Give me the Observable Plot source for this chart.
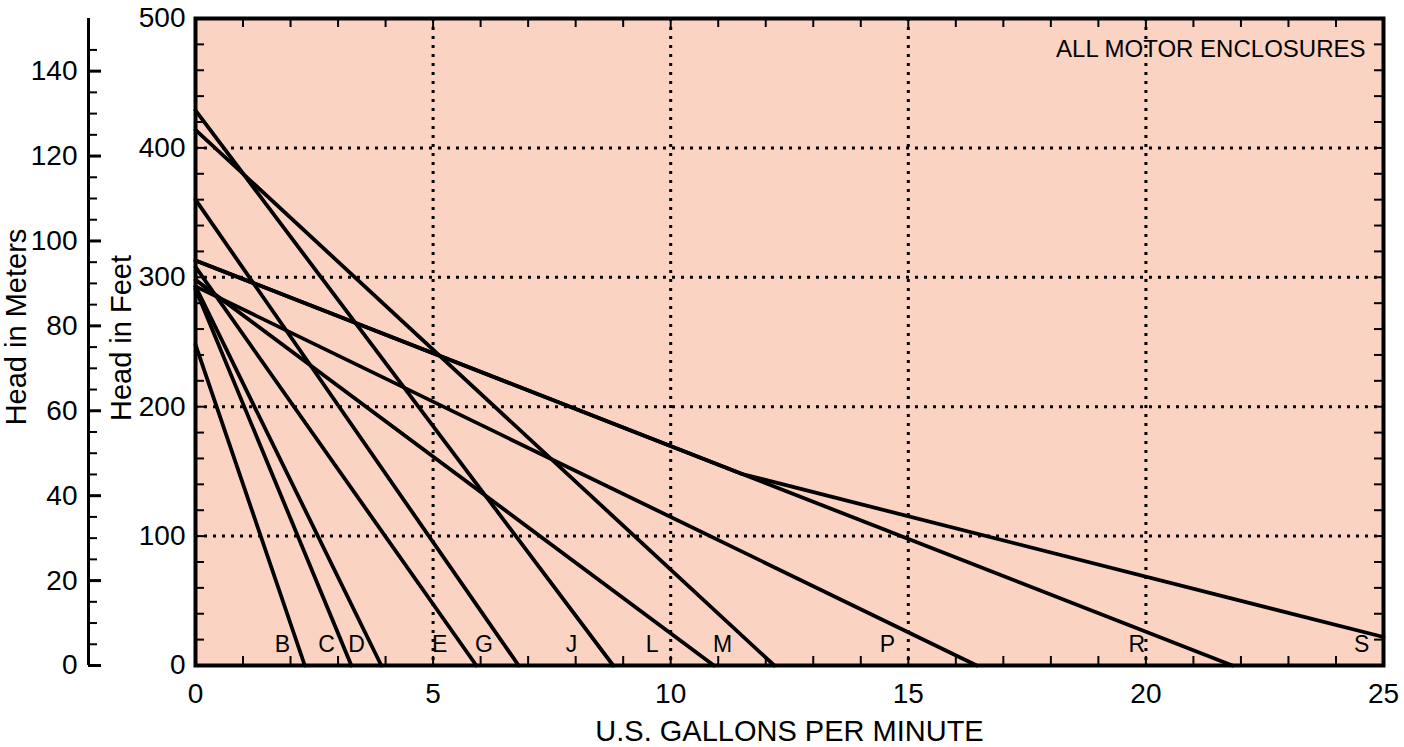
<!DOCTYPE html>
<html>
<head>
<meta charset="utf-8">
<script src="https://cdn.jsdelivr.net/npm/d3@7"></script>
<script src="https://cdn.jsdelivr.net/npm/@observablehq/plot@0.6"></script>
<style>
  body { margin: 0; background: #fff; }
</style>
</head>
<body>
<div id="chart"></div>
<script>
// pump curves: straight from shut-off head (ft at 0 gpm) to run-out flow (gpm at 0 ft)
const curveNames = ["B", "C", "D", "E", "G", "J", "L", "M", "P", "R"];
const shutoffFt  = [248, 291, 293, 308, 360, 429, 298, 414, 293, 313];
const runoutGpm  = [2.30, 3.28, 3.91, 5.91, 6.80, 8.79, 10.91, 12.18, 16.44, 21.82];

// S follows R, then flattens out past the frame
const sGpm = [0, 11.5, 25];
const sFt  = [313, 148, 22];

const labelNames = ["B", "C", "D", "E", "G", "J", "L", "M", "P", "R", "S"];
const labelGpm   = [1.83, 2.76, 3.39, 5.14, 6.07, 7.91, 9.61, 11.09, 14.56, 19.81, 24.54];

const xTicks = [0, 5, 10, 15, 20, 25];
const yTicksFt = [0, 100, 200, 300, 400, 500];
const gridGpm = [5, 10, 15, 20];
const gridFt = [100, 200, 300, 400];
const meterMajor = [0, 20, 40, 60, 80, 100, 120, 140];
const meterMinor = d3.range(5, 150, 5).filter(m => m % 20 !== 0);
const minorGpm = d3.range(1, 25);
const minorFt = d3.range(20, 500, 20);

const FT_PER_M = 1 / 0.3048;

const W = 1404, H = 747, mL = 195, mR = 21, mT = 18, mB = 82;
const gx = px => px * 25 / (W - mL - mR);   // pixels -> gpm
const gy = px => px * 500 / (H - mT - mB);  // pixels -> ft
const meterAxisX = -gx(107);

const rows = curveNames.flatMap((n, i) => [
  { curve: n, gpm: 0, ft: shutoffFt[i] },
  { curve: n, gpm: runoutGpm[i], ft: 0 }
]).concat(sGpm.map((g, i) => ({ curve: "S", gpm: g, ft: sFt[i] })));

const font = "'Liberation Sans', Arial, Helvetica, sans-serif";

const chart = Plot.plot({
  width: W,
  height: H,
  marginLeft: mL,
  marginRight: mR,
  marginTop: mT,
  marginBottom: mB,
  style: { fontFamily: font, fontSize: "28px", color: "black", background: "white", overflow: "visible" },
  x: { domain: [0, 25], ticks: xTicks, tickSize: 0, tickPadding: 18, label: null },
  y: { domain: [0, 500], ticks: yTicksFt, tickSize: 0, tickPadding: 10, label: null },
  marks: [
    Plot.frame({ fill: "#fbd3c3", stroke: null }),
    Plot.ruleX(gridGpm, { stroke: "black", strokeWidth: 3, strokeDasharray: "3,6" }),
    Plot.ruleY(gridFt, { stroke: "black", strokeWidth: 3, strokeDasharray: "3,6" }),
    Plot.line(rows, { x: "gpm", y: "ft", z: "curve", stroke: "black", strokeWidth: 3.8 }),
    // inner minor ticks on all four sides
    Plot.ruleX(minorGpm, { y1: 0, y2: gy(9), strokeWidth: 2 }),
    Plot.ruleX(minorGpm, { y1: 500, y2: 500 - gy(9), strokeWidth: 2 }),
    Plot.ruleY(minorFt, { x1: 0, x2: gx(9), strokeWidth: 2 }),
    Plot.ruleY(minorFt, { x1: 25, x2: 25 - gx(9), strokeWidth: 2 }),
    Plot.frame({ stroke: "black", strokeWidth: 4 }),
    // meters axis
    Plot.ruleX([meterAxisX], { y1: 0, y2: 500, strokeWidth: 3 }),
    Plot.ruleY(meterMajor, { y: m => m * FT_PER_M, x1: meterAxisX, x2: meterAxisX + gx(13), strokeWidth: 3 }),
    Plot.ruleY(meterMinor, { y: m => m * FT_PER_M, x1: meterAxisX, x2: meterAxisX + gx(9), strokeWidth: 2 }),
    Plot.text(meterMajor, { x: meterAxisX, y: m => m * FT_PER_M, text: d => String(d), dx: -11, textAnchor: "end", fontSize: 28 }),
    // labels
    Plot.text(labelNames, { x: labelGpm, y: 0, dy: -21, fontSize: 23 }),
    Plot.text(["ALL MOTOR ENCLOSURES"], { frameAnchor: "top-right", dx: -18, dy: 31, textAnchor: "end", lineAnchor: "middle", fontSize: 24 }),
    Plot.text(["U.S. GALLONS PER MINUTE"], { frameAnchor: "bottom", dy: 66, textAnchor: "middle", lineAnchor: "middle", fontSize: 29 }),
    Plot.text(["Head in Feet"], { frameAnchor: "left", dx: -74, dy: -4, rotate: -90, textAnchor: "middle", lineAnchor: "middle", fontSize: 29 }),
    Plot.text(["Head in Meters"], { frameAnchor: "left", dx: -179, dy: -15, rotate: -90, textAnchor: "middle", lineAnchor: "middle", fontSize: 29 })
  ]
});

document.getElementById("chart").replaceChildren(chart);
</script>
</body>
</html>
